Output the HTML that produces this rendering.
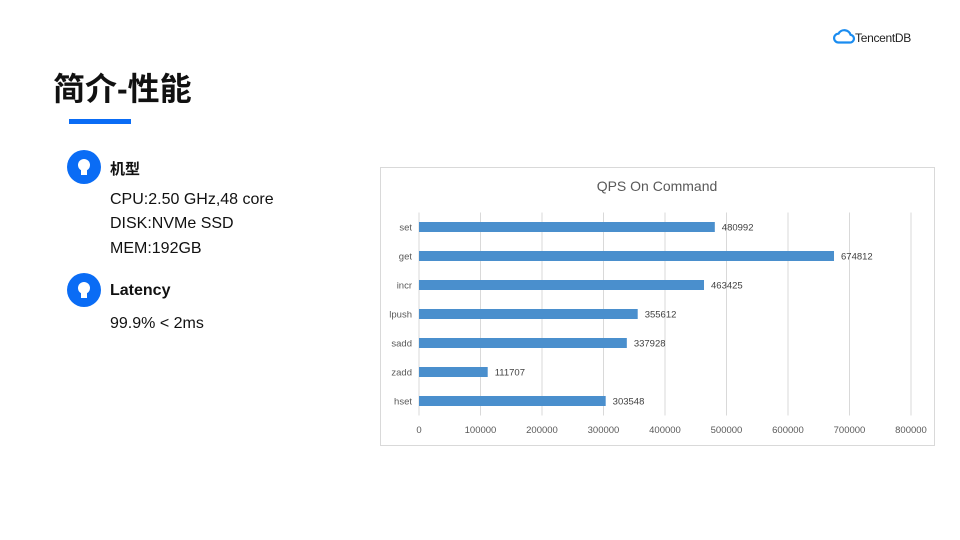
<!DOCTYPE html>
<html><head><meta charset="utf-8"><style>
body{margin:0;width:960px;height:540px;background:#fff;position:relative;overflow:hidden;font-family:"Liberation Sans","Noto Sans CJK SC",sans-serif;}
.a{position:absolute;white-space:nowrap;}
.ic{position:absolute;width:34px;height:34px;border-radius:50%;background:#0a6cf5;}
</style></head><body>
<div class="a" style="left:833px;top:29px;font-size:12px;color:#222;letter-spacing:-0.3px;">
<svg width="22" height="16" viewBox="0 0 20 14" style="vertical-align:-3px"><path d="M5 12 A4 4 0 0 1 5 4 A6 6 0 0 1 16 5 A3.5 3.5 0 0 1 15 12 Z" fill="none" stroke="#1a8cf0" stroke-width="2"/></svg>TencentDB</div>
<div class="a" style="left:53px;top:64px;font-size:32px;font-weight:bold;color:#111;">简介-性能</div>
<div class="a" style="left:69px;top:119px;width:62px;height:5px;background:#0a6cf5;"></div>
<div class="ic" style="left:67px;top:150px;"><svg width="34" height="34"><circle cx="17" cy="15" r="6" fill="#fff"/><rect x="14" y="20" width="6" height="5" fill="#fff"/></svg></div>
<div class="a" style="left:110px;top:158px;font-size:15px;font-weight:bold;color:#111;">机型</div>
<div class="a" style="left:110px;top:191px;font-size:16px;color:#111;">CPU:2.50 GHz,48 core</div>
<div class="a" style="left:110px;top:215px;font-size:16px;color:#111;">DISK:NVMe SSD</div>
<div class="a" style="left:110px;top:240px;font-size:16px;color:#111;">MEM:192GB</div>
<div class="ic" style="left:67px;top:273px;"><svg width="34" height="34"><circle cx="17" cy="15" r="6" fill="#fff"/><rect x="14" y="20" width="6" height="5" fill="#fff"/></svg></div>
<div class="a" style="left:110px;top:282px;font-size:16px;font-weight:bold;color:#111;">Latency</div>
<div class="a" style="left:110px;top:315px;font-size:16px;color:#111;">99.9% &lt; 2ms</div>
<svg id="chart" width="960" height="540" style="position:absolute;left:0;top:0;font-family:'Liberation Sans',sans-serif;"></svg>
<script>
const categories=["set","get","incr","lpush","sadd","zadd","hset"];
const values=[480992,674812,463425,355612,337928,111707,303548];
const ticks=[0,100000,200000,300000,400000,500000,600000,700000,800000];
const svg=document.getElementById('chart');
const NS='http://www.w3.org/2000/svg';
function mk(t,a){const e=document.createElementNS(NS,t);for(const k in a)e.setAttribute(k,a[k]);svg.appendChild(e);return e;}
const x0=419,x1=911,xmax=800000;
const xs=v=>x0+(v/xmax)*(x1-x0);
const ytop=212.5,ybot=415.5;
const step=(ybot-ytop)/categories.length;
const ys=i=>ytop+step*(i+0.5);
let box=mk('rect',{x:380.5,y:167.5,width:554,height:278,fill:'#fff',stroke:'#d9d9d9'});


let tt=mk('text',{x:657,y:191,'text-anchor':'middle','font-size':14,fill:'#595959'});tt.textContent='QPS On Command';


ticks.forEach(t=>{
 const g=mk('line',{x1:xs(t),x2:xs(t),y1:ytop,y2:ybot,stroke:'#d9d9d9'});
 
 
 const l=mk('text',{x:xs(t),y:433,'text-anchor':'middle','font-size':9.5,fill:'#595959'});l.textContent=t;
 
 
});
categories.forEach((c,i)=>{
 const y=ys(i);
 const b=mk('rect',{x:x0,y:y-5,width:xs(values[i])-x0,height:10,fill:'#4a8fcd'});
 
 
 const cl=mk('text',{x:412,y:y+3.5,'text-anchor':'end','font-size':9.5,fill:'#595959'});cl.textContent=c;
 
 
 const vl=mk('text',{x:xs(values[i])+7,y:y+3.5,'font-size':9.5,fill:'#404040'});vl.textContent=values[i];
 
 
});
</script>
</body></html>
